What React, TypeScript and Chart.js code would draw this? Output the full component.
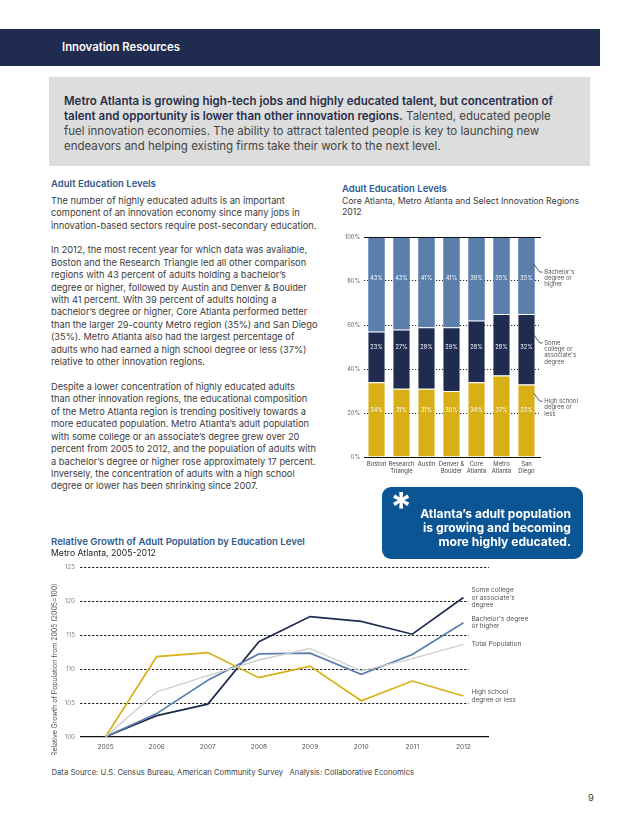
import React, { useEffect, useRef } from "react";
import { Chart, registerables } from "chart.js";
Chart.register(...registerables);

const FONT = "Inter, 'Open Sans', sans-serif";

// ---- Bar chart data ----
const regions = [["Boston"], ["Research", "Triangle"], ["Austin"], ["Denver &", "Boulder"], ["Core", "Atlanta"], ["Metro", "Atlanta"], ["San", "Diego"]];
const highSchool = [34, 31, 31, 30, 34, 37, 33];
const someCollege = [23, 27, 28, 29, 28, 28, 32];
const bachelors = [43, 43, 41, 41, 39, 35, 35];
const barSeriesNames = [["High school", "degree or", "less"], ["Some", "college or", "associate's", "degree"], ["Bachelor's", "degree or", "higher"]];

// ---- Line chart data ----
const years = ["2005", "2006", "2007", "2008", "2009", "2010", "2011", "2012"];
const growthTotal = [100, 106.6, 109.0, 111.3, 113.0, 109.7, 111.5, 113.6];
const growthHighSchool = [100, 111.8, 112.4, 108.7, 110.4, 105.3, 108.2, 106.0];
const growthBachelors = [100, 103.4, 108.3, 112.2, 112.3, 109.2, 112.1, 116.8];
const growthSomeCollege = [100, 103.1, 104.8, 114.0, 117.7, 117.0, 115.1, 120.5];
const lineSeriesNames = [["Total Population"], ["High school", "degree or less"], ["Bachelor's degree", "or higher"], ["Some college", "or associate's", "degree"]];
const lineYTitle = "Relative Growth of Population from 2005 (2005=100)";

const NAVY = "#1f2c4f";
const STEEL = "#5b7fad";
const GOLD = "#d8af14";
const GREY = "#cfcfcf";

const barDecor = {
  id: "barDecor",
  afterDatasetsDraw(chart: any) {
    const { ctx, chartArea, scales } = chart;
    const y = scales.y;
    ctx.save();
    ctx.strokeStyle = "#111";
    ctx.lineWidth = 1;
    ctx.setLineDash([]);
    [0, 100].forEach((v) => {
      const py = Math.round(y.getPixelForValue(v)) + 0.5;
      ctx.beginPath();
      ctx.moveTo(chartArea.left, py);
      ctx.lineTo(chartArea.right + 2, py);
      ctx.stroke();
    });
    const levels = [21, 50, 81];
    ctx.fillStyle = "#ffffff";
    ctx.font = `5.6px ${FONT}`;
    ctx.textAlign = "center";
    ctx.textBaseline = "middle";
    chart.data.datasets.forEach((ds: any, di: number) => {
      const meta = chart.getDatasetMeta(di);
      meta.data.forEach((bar: any, i: number) => {
        ctx.fillText(`${ds.data[i]}%`, bar.x, y.getPixelForValue(levels[di]));
      });
    });
    const anchors = [29, 55.5, 87.7];
    ctx.strokeStyle = "#333";
    ctx.lineWidth = 0.8;
    ctx.fillStyle = "#555";
    ctx.font = `6px ${FONT}`;
    ctx.textAlign = "left";
    chart.data.datasets.forEach((ds: any, di: number) => {
      const meta = chart.getDatasetMeta(di);
      const last = meta.data[meta.data.length - 1];
      const bx = last.x + last.width / 2;
      const ay = y.getPixelForValue(anchors[di]);
      ctx.beginPath();
      ctx.moveTo(bx - 1, ay);
      ctx.lineTo(bx + 5, ay + 8);
      ctx.lineTo(bx + 8, ay + 8);
      ctx.stroke();
      barSeriesNames[di].forEach((t, k) => ctx.fillText(t, bx + 9.5, ay + 8 + k * 6.3));
    });
    ctx.restore();
  },
};

const lineDecor = {
  id: "lineDecor",
  beforeDatasetsDraw(chart: any) {
    const { ctx, chartArea, scales } = chart;
    const { x, y } = scales;
    ctx.save();
    ctx.strokeStyle = "#111";
    [105, 110, 115, 120, 125].forEach((v) => {
      const py = Math.round(y.getPixelForValue(v)) + 0.5;
      const endX = v === 125 ? chartArea.right : x.getPixelForValue(years.length - 1) + 5;
      ctx.lineWidth = 0.9;
      ctx.setLineDash([2.4, 1.6]);
      ctx.beginPath();
      ctx.moveTo(chartArea.left, py);
      ctx.lineTo(endX, py);
      ctx.stroke();
    });
    ctx.setLineDash([]);
    ctx.lineWidth = 1.3;
    const by = y.getPixelForValue(100);
    ctx.beginPath();
    ctx.moveTo(chartArea.left, by);
    ctx.lineTo(chartArea.right, by);
    ctx.stroke();
    ctx.fillStyle = "#555";
    ctx.font = `6.9px ${FONT}`;
    ctx.textAlign = "center";
    ctx.textBaseline = "middle";
    ctx.translate(15, y.getPixelForValue(100) - 67);
    ctx.rotate(-Math.PI / 2);
    ctx.fillText(lineYTitle, 0, 0);
    ctx.restore();
  },
  afterDatasetsDraw(chart: any) {
    const { ctx } = chart;
    ctx.save();
    ctx.fillStyle = "#555";
    ctx.font = `6.6px ${FONT}`;
    ctx.textAlign = "left";
    ctx.textBaseline = "middle";
    chart.data.datasets.forEach((ds: any, di: number) => {
      const meta = chart.getDatasetMeta(di);
      const p = meta.data[meta.data.length - 1];
      const lines = lineSeriesNames[di];
      const lh = 7.3;
      const y0 = p.y - ((lines.length - 1) * lh) / 2;
      lines.forEach((t, k) => ctx.fillText(t, p.x + 8, y0 + k * lh));
    });
    ctx.restore();
  },
};

function BarChart() {
  const ref = useRef<HTMLCanvasElement>(null);
  useEffect(() => {
    const bw = { top: 1, bottom: 0, left: 0, right: 0 } as any;
    const chart = new Chart(ref.current!, {
      type: "bar",
      data: {
        labels: regions as any,
        datasets: [
          { label: "High school degree or less", data: highSchool, backgroundColor: GOLD, borderColor: "#fff", borderWidth: bw, borderSkipped: false },
          { label: "Some college or associate's degree", data: someCollege, backgroundColor: NAVY, borderColor: "#fff", borderWidth: bw, borderSkipped: false },
          { label: "Bachelor's degree or higher", data: bachelors, backgroundColor: STEEL, borderColor: "#fff", borderWidth: 0 },
        ],
      },
      options: {
        animation: false,
        responsive: false,
        maintainAspectRatio: false,
        layout: { padding: { top: 12, right: 91, left: 0, bottom: 0 } },
        plugins: { legend: { display: false }, tooltip: { enabled: false } },
        datasets: { bar: { categoryPercentage: 1, barPercentage: 0.66 } } as any,
        scales: {
          x: {
            stacked: true,
            grid: { display: false, drawTicks: false },
            border: { display: false },
            ticks: { color: "#444", font: { size: 5.9, family: FONT, lineHeight: 1.1 } as any, padding: 4, maxRotation: 0, autoSkip: false },
            afterFit: (s: any) => { s.height = 28; },
          },
          y: {
            stacked: true,
            min: 0,
            max: 100,
            ticks: { stepSize: 20, color: "#666", font: { size: 5.7, family: FONT }, padding: 4, callback: (v: any) => `${v}%` },
            grid: { color: "#111", lineWidth: 0.9, drawTicks: false },
            border: { display: false, dash: (c: any) => (c.tick && (c.tick.value === 0 || c.tick.value === 100) ? [] : [1.2, 1.8]) } as any,
            afterFit: (s: any) => { s.width = 34; },
          },
        },
      },
      plugins: [barDecor],
    });
    return () => chart.destroy();
  }, []);
  return <canvas ref={ref} width={300} height={260} style={{ position: "absolute", left: 330, top: 225, width: 300, height: 260 }} />;
}

function LineChart() {
  const ref = useRef<HTMLCanvasElement>(null);
  useEffect(() => {
    const mk = (label: string, data: number[], color: string, w: number) => ({
      label, data, borderColor: color, backgroundColor: color, borderWidth: w, pointRadius: 0, tension: 0, fill: false,
    });
    const chart = new Chart(ref.current!, {
      type: "line",
      data: {
        labels: years,
        datasets: [
          mk("Total Population", growthTotal, GREY, 1.4),
          mk("High school degree or less", growthHighSchool, GOLD, 1.7),
          mk("Bachelor's degree or higher", growthBachelors, STEEL, 1.7),
          mk("Some college or associate's degree", growthSomeCollege, NAVY, 1.7),
        ],
      },
      options: {
        animation: false,
        responsive: false,
        maintainAspectRatio: false,
        layout: { padding: { top: 12, right: 149, left: 0, bottom: 0 } },
        plugins: { legend: { display: false }, tooltip: { enabled: false } },
        scales: {
          x: {
            offset: true,
            grid: { display: false, drawTicks: false },
            border: { display: false },
            ticks: { color: "#555", font: { size: 6.6, family: FONT }, padding: 6, maxRotation: 0 },
            afterFit: (s: any) => { s.height = 18.3; },
          },
          y: {
            min: 100,
            max: 125,
            ticks: { stepSize: 5, color: "#888", font: { size: 6.2, family: FONT }, padding: 5 },
            grid: { display: false, drawTicks: false },
            border: { display: false },
            afterFit: (s: any) => { s.width = 40; },
          },
        },
      },
      plugins: [lineDecor],
    });
    return () => chart.destroy();
  }, []);
  return <canvas ref={ref} width={598} height={200} style={{ position: "absolute", left: 40, top: 555, width: 598, height: 200 }} />;
}

function T(props: { x: number; y: number; size: number; lh?: number; weight?: number; color?: string; children: React.ReactNode; style?: React.CSSProperties }) {
  const lh = props.lh ?? Math.round(props.size * 1.3);
  return (
    <div style={{ position: "absolute", left: props.x, top: props.y - lh / 2, lineHeight: `${lh}px`, height: lh, fontSize: props.size, fontWeight: props.weight ?? 400, color: props.color ?? "#3c3c3c", whiteSpace: "nowrap", fontFamily: FONT, ...props.style }}>
      {props.children}
    </div>
  );
}

const leftP1 = [
  "The number of highly educated adults is an important",
  "component of an innovation economy since many jobs in",
  "innovation-based sectors require post-secondary education.",
];
const leftP2 = [
  "In 2012, the most recent year for which data was available,",
  "Boston and the Research Triangle led all other comparison",
  "regions with 43 percent of adults holding a bachelor\u2019s",
  "degree or higher, followed by Austin and Denver & Boulder",
  "with 41 percent.  With 39 percent of adults holding a",
  "bachelor\u2019s degree or higher, Core Atlanta performed better",
  "than the larger 29-county Metro region (35%) and San Diego",
  "(35%). Metro Atlanta also had the largest percentage of",
  "adults who had earned a high school degree or less (37%)",
  "relative to other innovation regions.",
];
const leftP3 = [
  "Despite a lower concentration of highly educated adults",
  "than other innovation regions, the educational composition",
  "of the Metro Atlanta region is trending positively towards a",
  "more educated population. Metro Atlanta\u2019s adult population",
  "with some college or an associate\u2019s degree grew over 20",
  "percent from 2005 to 2012, and the population of adults with",
  "a bachelor\u2019s degree or higher rose approximately 17 percent.",
  "Inversely, the concentration of adults with a high school",
  "degree or lower has been shrinking since 2007.",
];

export default function App() {
  const LH = 12.42;
  const BODY = 9.25;
  const HEAD = "#2e5b8e";
  const p1y = 200.7;
  const p2y = p1y + 4 * LH;
  const p3y = p2y + 11 * LH;
  const BOX = 11.5;
  return (
    <div style={{ position: "absolute", left: 0, top: 0, width: 638, height: 826, background: "#fff", overflow: "hidden", fontFamily: FONT }}>
      <div style={{ position: "absolute", left: 0, top: 29, width: 600, height: 37, background: NAVY }} />
      <T x={62} y={47.5} size={11.3} weight={600} color="#fff">Innovation Resources</T>

      <div style={{ position: "absolute", left: 49, top: 77, width: 541, height: 89, background: "#dddddd" }} />
      <T x={64} y={101} size={BOX} weight={600} color="#27304a">Metro Atlanta is growing high-tech jobs and highly educated talent, but concentration of</T>
      <T x={64} y={116} size={BOX} color="#444">
        <span style={{ fontWeight: 600, color: "#27304a" }}>talent and opportunity is lower than other innovation regions.</span> Talented, educated people
      </T>
      <T x={64} y={131} size={BOX} color="#444">fuel innovation economies. The ability to attract talented people is key to launching new</T>
      <T x={64} y={146} size={BOX} color="#444">endeavors and helping existing firms take their work to the next level.</T>

      <T x={51} y={184} size={9.5} weight={600} color={HEAD}>Adult Education Levels</T>
      {leftP1.map((t, i) => <T key={"a" + i} x={51} y={p1y + i * LH} size={BODY}>{t}</T>)}
      {leftP2.map((t, i) => <T key={"b" + i} x={51} y={p2y + i * LH} size={BODY}>{t}</T>)}
      {leftP3.map((t, i) => <T key={"c" + i} x={51} y={p3y + i * LH} size={BODY}>{t}</T>)}

      <T x={342} y={189} size={9.5} weight={600} color={HEAD}>Adult Education Levels</T>
      <T x={342} y={201} size={8.7} color="#3c3c3c">Core Atlanta, Metro Atlanta and Select Innovation Regions</T>
      <T x={342} y={212} size={8.7} color="#3c3c3c">2012</T>
      <BarChart />

      <div style={{ position: "absolute", left: 382, top: 487, width: 201, height: 72, background: "#0c5594", borderRadius: 9 }} />
      <T x={390} y={507} size={40} lh={40} weight={700} color="#fff">*</T>
      <div style={{ position: "absolute", left: 370, top: 507, width: 201, textAlign: "right", color: "#fff", fontWeight: 700, fontSize: 12.1, lineHeight: "14px", fontFamily: FONT }}>
        <div>Atlanta’s adult population</div>
        <div>is growing and becoming</div>
        <div>more highly educated.</div>
      </div>

      <T x={51} y={542.3} size={9.6} weight={600} color={HEAD}>Relative Growth of Adult Population by Education Level</T>
      <T x={51} y={553.3} size={8.7} color="#222">Metro Atlanta, 2005-2012</T>
      <LineChart />

      <T x={51.5} y={773} size={7.7} color="#444">Data Source: U.S. Census Bureau, American Community Survey&nbsp;&nbsp; Analysis: Collaborative Economics</T>
      <T x={588} y={798} size={9.5} color="#444">9</T>
    </div>
  );
}
